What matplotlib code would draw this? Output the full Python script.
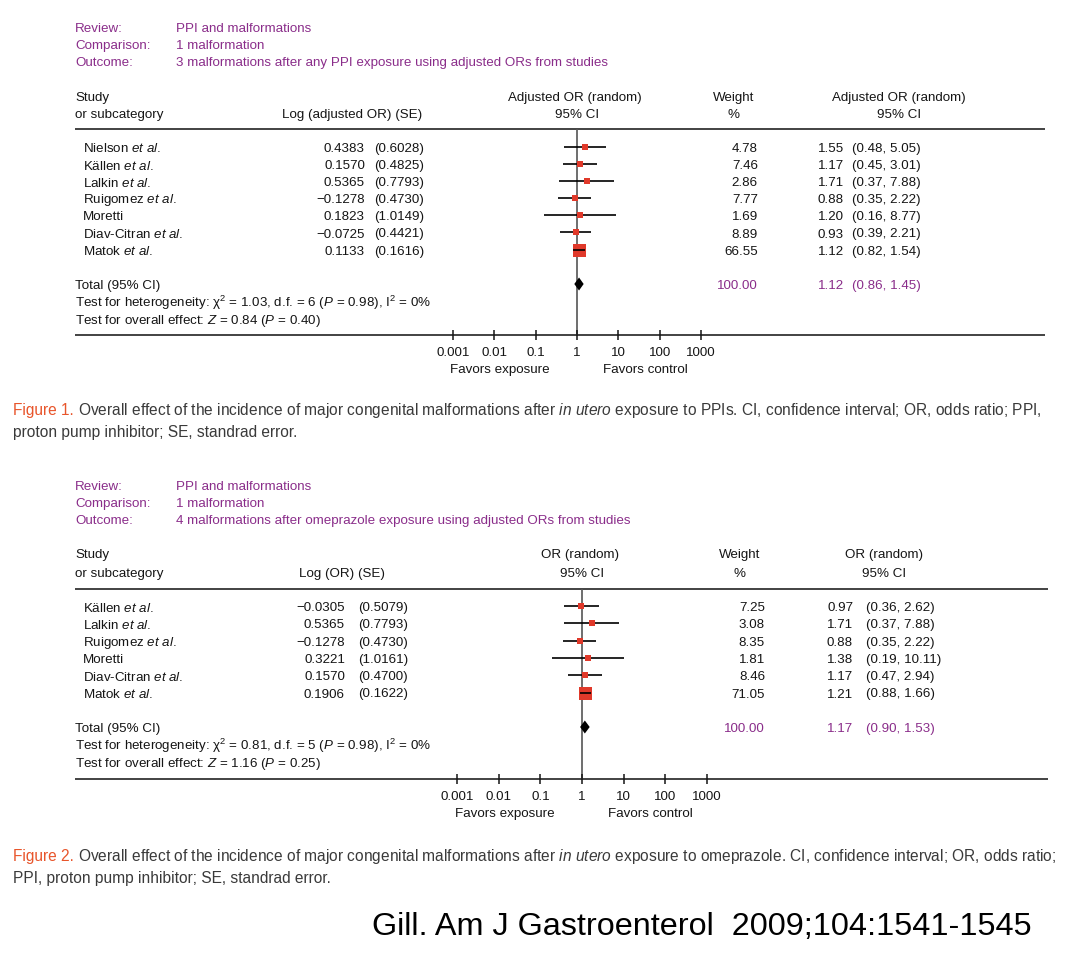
import matplotlib
matplotlib.use("Agg")
import matplotlib.pyplot as plt
import numpy as np

plt.rcParams['font.family'] = ['Liberation Sans', 'DejaVu Sans']
plt.rcParams['mathtext.fontset'] = 'custom'
plt.rcParams['mathtext.rm'] = 'Liberation Sans'
plt.rcParams['mathtext.it'] = 'Liberation Sans:italic'
plt.rcParams['mathtext.bf'] = 'Liberation Sans:bold'

# ---------------- data ----------------
tick_vals = [0.001, 0.01, 0.1, 1, 10, 100, 1000]
tick_labels = ["0.001", "0.01", "0.1", "1", "10", "100", "1000"]

p1_studies = ["Nielson", "Källen", "Lalkin", "Ruigomez", "Moretti", "Diav-Citran", "Matok"]
p1_etal = [True, True, True, True, False, True, True]
p1_log = [0.4383, 0.1570, 0.5365, -0.1278, 0.1823, -0.0725, 0.1133]
p1_se = [0.6028, 0.4825, 0.7793, 0.4730, 1.0149, 0.4421, 0.1616]
p1_weight = [4.78, 7.46, 2.86, 7.77, 1.69, 8.89, 66.55]
p1_or = [1.55, 1.17, 1.71, 0.88, 1.20, 0.93, 1.12]
p1_lo = [0.48, 0.45, 0.37, 0.35, 0.16, 0.39, 0.82]
p1_hi = [5.05, 3.01, 7.88, 2.22, 8.77, 2.21, 1.54]
p1_total = [1.12, 0.86, 1.45]
p1_total_weight = 100.00

p2_studies = ["Källen", "Lalkin", "Ruigomez", "Moretti", "Diav-Citran", "Matok"]
p2_etal = [True, True, True, False, True, True]
p2_log = [-0.0305, 0.5365, -0.1278, 0.3221, 0.1570, 0.1906]
p2_se = [0.5079, 0.7793, 0.4730, 1.0161, 0.4700, 0.1622]
p2_weight = [7.25, 3.08, 8.35, 1.81, 8.46, 71.05]
p2_or = [0.97, 1.71, 0.88, 1.38, 1.17, 1.21]
p2_lo = [0.36, 0.37, 0.35, 0.19, 0.47, 0.88]
p2_hi = [2.62, 7.88, 2.22, 10.11, 2.94, 1.66]
p2_total = [1.17, 0.90, 1.53]
p2_total_weight = 100.00

# ---------------- styles ----------------
W, H = 1074, 967
FS = 9.65
CFS = 11.2
DY = 2.0
PURPLE = '#8a2d8a'
RED = '#e0392a'
TXT = '#151515'
CAP_TXT = '#3a3a3a'
CAP_RED = '#e8552b'

fig = plt.figure(figsize=(W / 100, H / 100), dpi=100)
bg = fig.add_axes([0, 0, 1, 1])
bg.set_xlim(0, W)
bg.set_ylim(H, 0)
bg.axis('off')


def t(x, y, s, ha='left', color=TXT, fs=FS, **kw):
    return bg.text(x, y + DY, s, ha=ha, va='center', color=color, fontsize=fs, **kw)


def fmt(v, n):
    return f"{v:.{n}f}".replace("-", "\u2212")


def study_label(name, etal):
    return name + (r" $\it{et\ al.}$" if etal else "")


def panel(cfg):
    y0 = cfg['y_head']
    for i, (lab, val) in enumerate(zip(["Review:", "Comparison:", "Outcome:"], cfg['meta'])):
        t(75, y0 + i * 17, lab, color=PURPLE)
        t(176, y0 + i * 17, val, color=PURPLE)
    hy1, hy2 = cfg['hdr_y']
    t(75, hy1, "Study")
    t(75, hy2, "or subcategory")
    t(cfg['log_hdr_x'], hy2, cfg['log_hdr'], ha='center')
    t(cfg['plot_hdr_x'], hy1, cfg['or_hdr'], ha='center')
    t(cfg['plot_hdr_x'] + 2, hy2, "95% CI", ha='center')
    t(cfg['w_hdr_x'], hy1, "Weight", ha='center')
    t(cfg['w_hdr_x'], hy2, "%", ha='center')
    t(cfg['or2_hdr_x'], hy1, cfg['or_hdr'], ha='center')
    t(cfg['or2_hdr_x'], hy2, "95% CI", ha='center')

    top, bot = cfg['top'], cfg['bot']
    bg.plot([75, cfg['line_r']], [top, top], color='#222', lw=1.2, solid_capstyle='butt')
    bg.plot([75, cfg['line_r']], [bot, bot], color='#222', lw=1.2, solid_capstyle='butt')

    n = len(cfg['studies'])
    ys = [cfg['row0'] + i * cfg['row_h'] for i in range(n)]
    for i in range(n):
        y = ys[i]
        t(83, y, study_label(cfg['studies'][i], cfg['etal'][i]))
        t(cfg['log_r'], y, fmt(cfg['log'][i], 4), ha='right')
        t(cfg['se_l'], y, "(" + fmt(cfg['se'][i], 4) + ")")
        t(cfg['w_r'], y, fmt(cfg['weight'][i], 2), ha='right')
        t(cfg['or_r'], y, fmt(cfg['or'][i], 2), ha='right')
        t(cfg['ci_l'], y, "(" + fmt(cfg['lo'][i], 2) + ", " + fmt(cfg['hi'][i], 2) + ")")

    ty = cfg['total_y']
    t(75, ty, "Total (95% CI)")
    t(cfg['w_r'], ty, fmt(cfg['total_w'], 2), ha='right', color=PURPLE)
    tot = cfg['total']
    t(cfg['or_r'], ty, fmt(tot[0], 2), ha='right', color=PURPLE)
    t(cfg['ci_l'], ty, "(" + fmt(tot[1], 2) + ", " + fmt(tot[2], 2) + ")", color=PURPLE)
    t(75, ty + 16.5, cfg['het'])
    t(75, ty + 35, cfg['eff'])

    # forest axes
    L, R = cfg['ax_l'], cfg['ax_r']
    ax = fig.add_axes([L / W, 1 - bot / H, (R - L) / W, (bot - top) / H])
    ax.patch.set_alpha(0)
    ax.set_xscale('log')
    ax.set_xlim(tick_vals[0], tick_vals[-1])
    ax.set_ylim(bot, top)
    for s in ax.spines.values():
        s.set_visible(False)
    ax.set_yticks([])
    ax.set_xticks(tick_vals)
    ax.set_xticklabels(tick_labels)
    ax.minorticks_off()
    ax.tick_params(axis='x', direction='inout', length=7.5, width=1.1, pad=5.0,
                   labelsize=FS, colors='#151515')
    ax.axvline(1, color='#555555', lw=1.2, zorder=1)

    ppd = (R - L) / 6.0
    wmax = max(cfg['weight'])
    for i in range(n):
        side = 6.0 + 7.0 * cfg['weight'][i] / wmax
        o, lo, hi = cfg['or'][i], cfg['lo'][i], cfg['hi'][i]
        inside = (np.log10(hi / o) * ppd < side / 2) and (np.log10(o / lo) * ppd < side / 2)
        ax.hlines(ys[i], lo, hi, color='black', lw=1.2, zorder=4 if inside else 2)
        ax.scatter([o], [ys[i]], marker='s', s=(side * 0.72) ** 2, color=RED,
                   linewidths=0, zorder=3)
    dh = 6.5
    ax.fill([tot[1], tot[0], tot[2], tot[0]], [ty, ty - dh, ty, ty + dh],
            color='black', zorder=4, lw=0)
    t(cfg['fav_l'], cfg['fav_y'], "Favors exposure", ha='center')
    t(cfg['fav_r'], cfg['fav_y'], "Favors control", ha='center')


panel(dict(
    y_head=27,
    meta=["PPI and malformations", "1 malformation",
          "3 malformations after any PPI exposure using adjusted ORs from studies"],
    hdr_y=(96, 113), log_hdr="Log (adjusted OR) (SE)", log_hdr_x=352,
    or_hdr="Adjusted OR (random)", plot_hdr_x=575, w_hdr_x=734, or2_hdr_x=899,
    top=129, bot=335, line_r=1045,
    studies=p1_studies, etal=p1_etal, log=p1_log, se=p1_se, weight=p1_weight,
    **{'or': p1_or}, lo=p1_lo, hi=p1_hi,
    row0=147, row_h=17.1,
    log_r=365, se_l=374, w_r=758, or_r=844, ci_l=852,
    total_y=284, total_w=p1_total_weight, total=p1_total,
    het=r"Test for heterogeneity: χ$^{2}$ = 1.03, d.f. = 6 ($\it{P}$ = 0.98), I$^{2}$ = 0%",
    eff=r"Test for overall effect: $\it{Z}$ = 0.84 ($\it{P}$ = 0.40)",
    ax_l=453, ax_r=701, fav_l=500, fav_r=645, fav_y=368,
))

panel(dict(
    y_head=485,
    meta=["PPI and malformations", "1 malformation",
          "4 malformations after omeprazole exposure using adjusted ORs from studies"],
    hdr_y=(553, 572), log_hdr="Log (OR) (SE)", log_hdr_x=342,
    or_hdr="OR (random)", plot_hdr_x=580, w_hdr_x=740, or2_hdr_x=884,
    top=589, bot=779, line_r=1048,
    studies=p2_studies, etal=p2_etal, log=p2_log, se=p2_se, weight=p2_weight,
    **{'or': p2_or}, lo=p2_lo, hi=p2_hi,
    row0=606, row_h=17.3,
    log_r=345, se_l=358, w_r=765, or_r=853, ci_l=866,
    total_y=727, total_w=p2_total_weight, total=p2_total,
    het=r"Test for heterogeneity: χ$^{2}$ = 0.81, d.f. = 5 ($\it{P}$ = 0.98), I$^{2}$ = 0%",
    eff=r"Test for overall effect: $\it{Z}$ = 1.16 ($\it{P}$ = 0.25)",
    ax_l=457, ax_r=707, fav_l=505, fav_r=650, fav_y=812,
))

# ---------------- captions ----------------
fig.canvas.draw()
renderer = fig.canvas.get_renderer()


def caption(y1, y2, label, rest1, rest2):
    a = t(13, y1, label, color=CAP_RED, fs=CFS)
    bb = a.get_window_extent(renderer)
    t(bb.x1 + 4, y1, rest1, color=CAP_TXT, fs=CFS)
    t(13, y2, rest2, color=CAP_TXT, fs=CFS)


caption(408, 430, "Figure 1.",
        r"Overall effect of the incidence of major congenital malformations after $\it{in\ utero}$ exposure to PPIs. CI, confidence interval; OR, odds ratio; PPI,",
        "proton pump inhibitor; SE, standrad error.")
caption(855, 876, "Figure 2.",
        r"Overall effect of the incidence of major congenital malformations after $\it{in\ utero}$ exposure to omeprazole. CI, confidence interval; OR, odds ratio;",
        "PPI, proton pump inhibitor; SE, standrad error.")

bg.text(372, 927, "Gill. Am J Gastroenterol  2009;104:1541-1545", ha='left', va='center',
        fontsize=23.3, color='black')

fig.savefig("out.png", dpi=100)
